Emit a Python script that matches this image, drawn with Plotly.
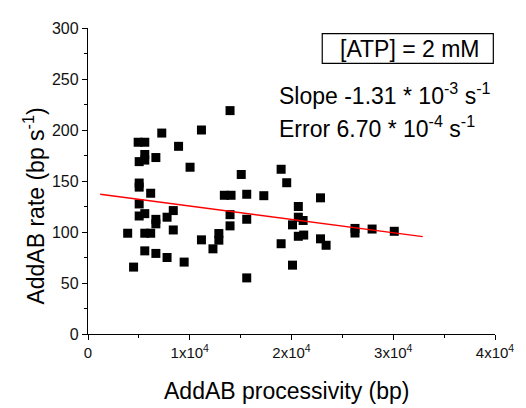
import plotly.graph_objects as go

# Data
processivity_bp = [7250, 4930, 5580, 5580, 5030, 5580, 6670, 5030, 5030, 6160,
                   5030, 5030, 5580, 6670, 6670, 7770, 8380, 8380, 3900, 5580,
                   6160, 5580, 6670, 7770, 4480, 9450, 13960, 11150, 8900, 10030,
                   15060, 13400, 14060, 15600, 17280, 13960, 15600, 13960, 12860, 12860,
                   11150, 12280, 15600, 18980, 19530, 22850, 20670, 20670, 21140, 20100,
                   20670, 21200, 18980, 22850, 23400, 20100, 26240, 26240, 27920, 30100]
rate_bp_s = [197, 188, 188, 176, 169, 170.5, 173, 148, 144, 138,
             127.5, 115.7, 118, 112.4, 108, 114.5, 121, 102, 98.8, 98.8,
             98.8, 81.5, 79, 75, 65.6, 70.5, 219, 200, 184, 163.5,
             156.4, 136, 136, 137, 135.6, 117, 112.5, 106, 98.5, 92,
             92.3, 83.5, 55, 161.5, 148.3, 133.5, 125, 114.5, 111.3, 107,
             95.8, 97, 88.5, 93.3, 87, 67.5, 103.5, 99, 102.9, 100.7]

fit_x = [1200, 32900]
fit_y = [137.0, 95.4]

x_tickvals = [0, 10000, 20000, 30000, 40000]
x_ticktext = ["0", "1x10<sup>4</sup>", "2x10<sup>4</sup>", "3x10<sup>4</sup>", "4x10<sup>4</sup>"]
y_tickvals = [0, 50, 100, 150, 200, 250, 300]

FONT = "Liberation Sans, Arial, sans-serif"

fig = go.Figure()
fig.add_trace(go.Scatter(x=processivity_bp, y=rate_bp_s, mode="markers",
                         marker=dict(symbol="square", size=9, color="black",
                                     line=dict(width=0)),
                         showlegend=False))
fig.add_trace(go.Scatter(x=fit_x, y=fit_y, mode="lines",
                         line=dict(color="#ff0000", width=1.3),
                         showlegend=False))

# page has an 8px body margin; figure sized so the plot lands where the reference has it
OFF = 8
W, H = 518, 400
L, T = 88 - OFF, 21 - OFF
R = W - (501 - OFF)
B = H - (334.3 - OFF)
pw, ph = W - L - R, H - T - B

def px(x):
    return (x - OFF - L) / pw

def py(y):
    return (H - B - (y - OFF)) / ph

fig.update_layout(
    width=W, height=H,
    margin=dict(l=L, r=R, t=T, b=B, pad=0),
    plot_bgcolor="white", paper_bgcolor="white",
    font=dict(family=FONT, color="black"),
    xaxis=dict(range=[0, 40000], tickvals=x_tickvals, ticktext=x_ticktext,
               showgrid=False, zeroline=False, showline=True, linecolor="black",
               linewidth=1.3, ticks="outside", ticklen=5, tickwidth=1.3,
               tickcolor="black", tickfont=dict(size=15, family=FONT, color="#111"),
               minor=dict(dtick=5000, ticks="outside", ticklen=3, tickwidth=1.3,
                          tickcolor="black", showgrid=False)),
    yaxis=dict(range=[0, 300], tickvals=y_tickvals,
               showgrid=False, zeroline=False, showline=True, linecolor="black",
               linewidth=1.3, ticks="outside", ticklen=5, tickwidth=1.3,
               tickcolor="black", tickfont=dict(size=16, family=FONT, color="#111"),
               minor=dict(dtick=25, ticks="outside", ticklen=3, tickwidth=1.3,
                          tickcolor="black", showgrid=False)),
    shapes=[dict(type="rect", xref="paper", yref="paper",
                 x0=px(325.7), x1=px(499.3), y0=py(57.3), y1=py(26.7),
                 line=dict(color="black", width=1.2), fillcolor="rgba(0,0,0,0)")],
    annotations=[
        dict(text="[ATP] = 2 mM", xref="paper", yref="paper", x=px(414.5), y=py(42),
             xanchor="center", yanchor="middle", showarrow=False,
             font=dict(size=23, family=FONT, color="black")),
        dict(text="Slope -1.31 * 10<sup>-3</sup> s<sup>-1</sup>", xref="paper", yref="paper",
             x=px(280), y=py(89), xanchor="left", yanchor="middle", showarrow=False,
             font=dict(size=23, family=FONT, color="black")),
        dict(text="Error 6.70 * 10<sup>-4</sup> s<sup>-1</sup>", xref="paper", yref="paper",
             x=px(280), y=py(122), xanchor="left", yanchor="middle", showarrow=False,
             font=dict(size=23, family=FONT, color="black")),
        dict(text="AddAB processivity (bp)", xref="paper", yref="paper",
             x=px(289), y=py(393), xanchor="center", yanchor="middle", showarrow=False,
             font=dict(size=23, family=FONT, color="black")),
        dict(text="AddAB rate (bp s<sup>-1</sup>)", xref="paper", yref="paper",
             x=px(33), y=py(203), xanchor="center", yanchor="middle", showarrow=False,
             textangle=-90, font=dict(size=23, family=FONT, color="black")),
    ],
)

fig.write_html("out.html")
